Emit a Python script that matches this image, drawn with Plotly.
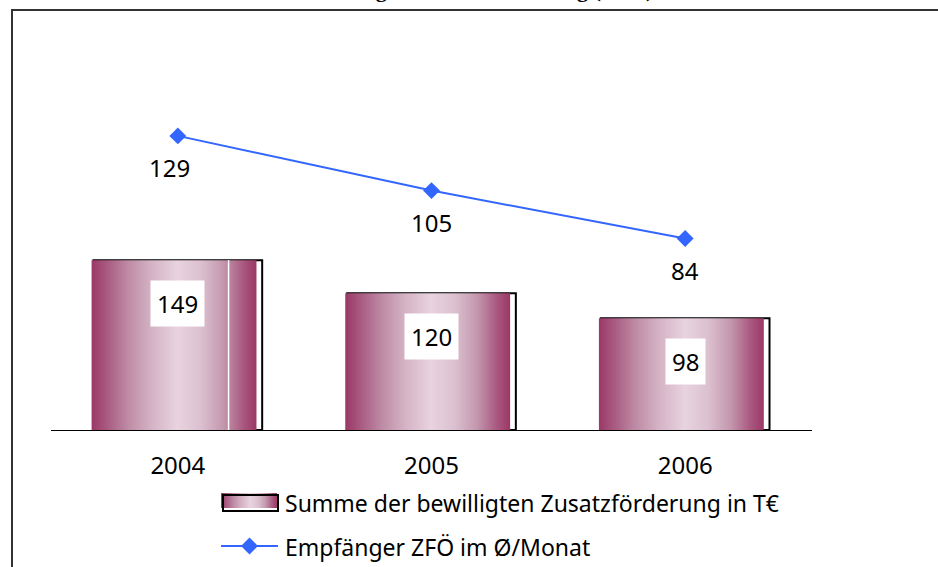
import plotly.graph_objects as go

# ---- data -------------------------------------------------------------
years = ["2004", "2005", "2006"]
summe_te = [149, 120, 98]        # Summe der bewilligten Zusatzförderung in T€
empfaenger = [129, 105, 84]      # Empfänger ZFÖ im Ø/Monat

bar_name = "Summe der bewilligten Zusatzförderung in T€"
line_name = "Empfänger ZFÖ im Ø/Monat"
title_text = "Entwicklung der Zusatzförderung (ZFÖ)"

# ---- styling ----------------------------------------------------------
W, H = 938, 567
FONT = "Noto Sans"
BLUE = "#3366ff"
CYL = [[0.00, "#9b3767"], [0.10, "#a95d83"], [0.22, "#be8aa4"],
       [0.36, "#d4b2c4"], [0.52, "#e8d3df"], [0.66, "#dcc1d0"],
       [0.80, "#c397ad"], [0.92, "#a9587f"], [1.00, "#9b3767"]]

HALF_L, HALF_R = 0.34, 0.31      # gradient body around each category centre
OUT_W, OUT_DX = 0.665, 0.0       # outline frame width / horizontal offset

fig = go.Figure()
idx = list(range(len(years)))

# cylinder-like gradient bodies
for i, v in zip(idx, summe_te):
    fig.add_trace(go.Scatter(
        x=[i - HALF_L, i + HALF_R, i + HALF_R, i - HALF_L, i - HALF_L],
        y=[0, 0, v, v, 0],
        mode="lines", fill="toself",
        fillgradient=dict(type="horizontal", colorscale=CYL),
        line=dict(width=0), hoverinfo="skip", showlegend=False,
        xaxis="x", yaxis="y"))

# thin light seam on the first column
fig.add_trace(go.Scatter(
    x=[idx[0] + 0.2, idx[0] + 0.2], y=[0, summe_te[0]],
    mode="lines", line=dict(color="white", width=1.5),
    hoverinfo="skip", showlegend=False, xaxis="x", yaxis="y"))

# black outline frames of the columns
fig.add_trace(go.Bar(
    x=[i + OUT_DX for i in idx], y=summe_te, width=OUT_W,
    marker=dict(color="rgba(0,0,0,0)", line=dict(color="black", width=2)),
    hoverinfo="skip", showlegend=False, xaxis="x", yaxis="y"))

# recipients line on the secondary scale
fig.add_trace(go.Scatter(
    x=idx, y=empfaenger, mode="lines+markers",
    line=dict(color=BLUE, width=2),
    marker=dict(symbol="diamond", size=13, color=BLUE),
    hoverinfo="skip", showlegend=False, xaxis="x", yaxis="y2"))

annotations = []
for i, v in zip(idx, summe_te):
    annotations.append(dict(
        x=i, y=v, xref="x", yref="y", yshift=-43, text=str(v),
        showarrow=False, bgcolor="white", borderpad=6,
        font=dict(family=FONT, size=24, color="black")))
for i, v in zip(idx, empfaenger):
    annotations.append(dict(
        x=i, y=v, xref="x", yref="y2", yshift=-32,
        xshift=-8 if i == 0 else 0, text=str(v),
        showarrow=False, font=dict(family=FONT, size=24, color="black")))

# ---- hand-drawn legend (pixel helper axes x3/y3) ----------------------
fig.add_trace(go.Scatter(
    x=[221, 277, 277, 221, 221], y=[493, 493, 508, 508, 493],
    mode="lines", fill="toself",
    fillgradient=dict(type="horizontal", colorscale=CYL),
    line=dict(width=0), hoverinfo="skip", showlegend=False,
    xaxis="x3", yaxis="y3"))
fig.add_trace(go.Scatter(
    x=[221, 278], y=[546, 546], mode="lines",
    line=dict(color=BLUE, width=2), hoverinfo="skip", showlegend=False,
    xaxis="x3", yaxis="y3"))
fig.add_trace(go.Scatter(
    x=[249.5], y=[546], mode="markers",
    marker=dict(symbol="diamond", size=13, color=BLUE),
    hoverinfo="skip", showlegend=False, xaxis="x3", yaxis="y3"))

shapes = [
    dict(type="rect", xref="x3", yref="y3", x0=223, x1=278, y0=495, y1=511,
         line=dict(color="black", width=2), fillcolor="rgba(0,0,0,0)"),
    # outer chart frame
    dict(type="rect", xref="x3", yref="y3", x0=12, x1=W + 20, y0=10, y1=H + 20,
         line=dict(color="#333333", width=2), fillcolor="rgba(0,0,0,0)"),
]

annotations += [
    dict(x=283, y=503, xref="x3", yref="y3", xanchor="left", yanchor="middle",
         text=bar_name, showarrow=False,
         font=dict(family=FONT, size=23, color="black")),
    dict(x=283, y=547, xref="x3", yref="y3", xanchor="left", yanchor="middle",
         text=line_name, showarrow=False,
         font=dict(family=FONT, size=23, color="black")),
    # chart title, sitting above the top edge of the page
    dict(x=460, y=4, xref="x3", yref="y3", xanchor="center", yanchor="bottom",
         text="<b>" + title_text + "</b>", showarrow=False,
         font=dict(family="Liberation Serif", size=22, color="black")),
]

fig.update_layout(
    width=W, height=H,
    margin=dict(l=0, r=0, t=0, b=0),
    paper_bgcolor="white", plot_bgcolor="rgba(0,0,0,0)",
    showlegend=False,
    xaxis=dict(domain=[51 / W, 812 / W], range=[-0.5, 2.5],
               tickvals=idx, ticktext=years, ticks="",
               showline=True, linecolor="black", linewidth=1,
               showgrid=False, zeroline=False, ticklabelstandoff=14,
               tickfont=dict(family=FONT, size=24, color="black"),
               anchor="y", fixedrange=True),
    yaxis=dict(domain=[(H - 430) / H, (H - 88) / H], range=[0, 300],
               visible=False, anchor="x", fixedrange=True),
    yaxis2=dict(range=[0, 150], overlaying="y", anchor="x",
                visible=False, fixedrange=True),
    xaxis3=dict(domain=[0, 1], range=[0, W], visible=False, anchor="y3",
                fixedrange=True),
    yaxis3=dict(domain=[0, 1], range=[H, 0], visible=False, anchor="x3",
                fixedrange=True),
    shapes=shapes,
    annotations=annotations,
)

fig.write_html("out.html")
